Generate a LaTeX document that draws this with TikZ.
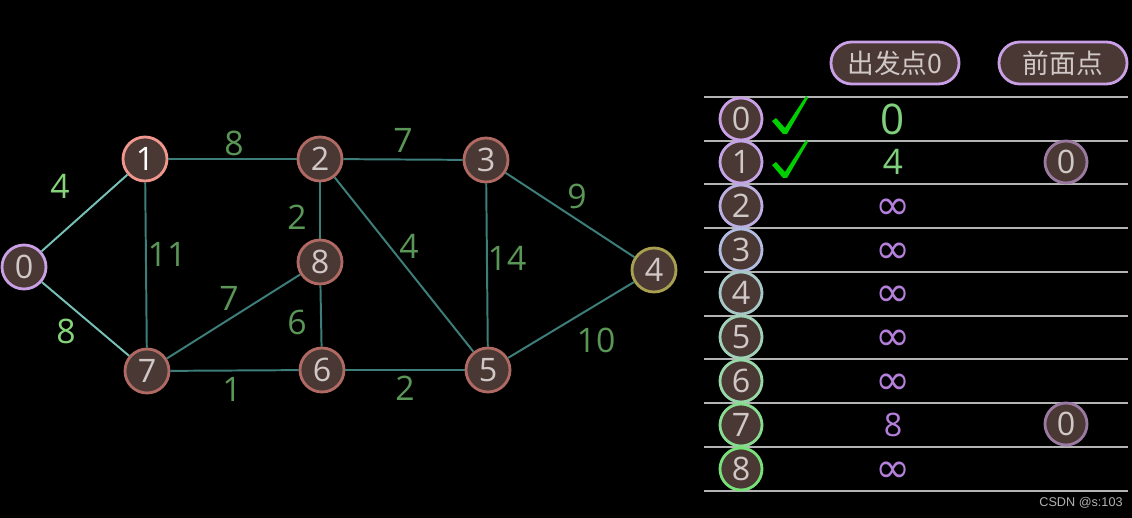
\documentclass[tikz,border=0pt]{standalone}
\usepackage{fontspec}
\setmainfont{Open Sans}
\newfontfamily\cjkfont{Noto Sans CJK SC}
\newfontfamily\symfont{DejaVu Sans}
\newfontfamily\markfont{Liberation Sans}

\definecolor{vfill}{HTML}{4A3834}
\definecolor{vline}{HTML}{B06A63}
\definecolor{vtext}{HTML}{D0C8C6}
\definecolor{startline}{HTML}{C9A0E6}
\definecolor{firstline}{HTML}{F0968C}
\definecolor{farline}{HTML}{A8A050}
\definecolor{linkdark}{HTML}{3E7E7A}
\definecolor{linklight}{HTML}{76C0B8}
\definecolor{wtdark}{HTML}{5A9656}
\definecolor{wtlight}{HTML}{86D47A}
\definecolor{rulecol}{HTML}{B4B4B4}
\definecolor{infcol}{HTML}{B57FDC}
\definecolor{distcol}{HTML}{80CF7C}
\definecolor{checkcol}{HTML}{00D000}
\definecolor{predline}{HTML}{9A7AA0}

% tick mark drawn at a given centre
\newcommand{\tickat}[2]{\fill[checkcol, shift={(#1,#2)}] (-18,4) -- (-14,1) -- (-5,11) -- (16,-21) -- (18,-19) -- (-3,17) -- (-7,17) -- cycle;}

\begin{document}
\begin{tikzpicture}[x=0.025cm, y=-0.025cm,
    vtx/.style={circle, draw=vline, line width=2pt, fill=vfill, minimum size=1.1cm, inner sep=0pt, text=vtext, font=\fontsize{23}{23}\selectfont},
    link/.style={draw=linkdark, line width=1.4pt},
    wt/.style={text=wtdark, font=\fontsize{24}{24}\selectfont},
    rowv/.style={vtx, minimum size=1.05cm},
    pill/.style={draw=startline, line width=2pt, fill=vfill, rounded corners=0.52cm, minimum width=3.2cm, minimum height=1.05cm, text=vtext, font=\cjkfont\fontsize{19}{19}\selectfont},
    tline/.style={draw=rulecol, line width=2pt},
    inf/.style={text=infcol, font=\symfont\fontsize{30}{30}\selectfont}
]
    % Background
    \fill[black] (0,0) rectangle (1132,518);
    \useasboundingbox (0,0) rectangle (1132,518);

    % Graph vertices
    \node[vtx, draw=startline] (v0) at (24,267) {0};
    \node[vtx, draw=firstline, text=white] (v1) at (145,159) {1};
    \node[vtx] (v2) at (320,159) {2};
    \node[vtx] (v3) at (486,160) {3};
    \node[vtx, draw=farline] (v4) at (654,270) {4};
    \node[vtx] (v5) at (488,370) {5};
    \node[vtx] (v6) at (322,370) {6};
    \node[vtx] (v7) at (147,371) {7};
    \node[vtx] (v8) at (320,262) {8};

    % Graph edges
    \draw[link, draw=linklight] (v0) -- (v1);
    \draw[link, draw=linklight] (v0) -- (v7);
    \draw[link] (v1) -- (v2);
    \draw[link] (v1) -- (v7);
    \draw[link] (v2) -- (v3);
    \draw[link] (v2) -- (v8);
    \draw[link] (v2) -- (v5);
    \draw[link] (v7) -- (v8);
    \draw[link] (v8) -- (v6);
    \draw[link] (v7) -- (v6);
    \draw[link] (v6) -- (v5);
    \draw[link] (v3) -- (v5);
    \draw[link] (v3) -- (v4);
    \draw[link] (v5) -- (v4);

    % Edge weights
    \node[wt, text=wtlight] (w01) at (60,186) {4};
    \node[wt, text=wtlight] (w07) at (66,331) {8};
    \node[wt] (w12) at (234,143) {8};
    \node[wt] (w17) at (167,254) {11};
    \node[wt] (w23) at (403,140) {7};
    \node[wt] (w28) at (297,217) {2};
    \node[wt] (w78) at (229,298) {7};
    \node[wt] (w86) at (297,322) {6};
    \node[wt] (w25) at (409,246) {4};
    \node[wt] (w35) at (507,258) {14};
    \node[wt] (w34) at (577,196) {9};
    \node[wt] (w54) at (596,340) {10};
    \node[wt] (w76) at (232,389) {1};
    \node[wt] (w65) at (405,388) {2};

    % Table header
    \node[pill] (hdist) at (895,63) {出发点0};
    \node[pill] (hprev) at (1063,63) {前面点};

    % Table rules
    \draw[tline] (704,97) -- (1128,97);
    \draw[tline] (704,141) -- (1128,141);
    \draw[tline] (704,184) -- (1128,184);
    \draw[tline] (704,228) -- (1128,228);
    \draw[tline] (704,272) -- (1128,272);
    \draw[tline] (704,316) -- (1128,316);
    \draw[tline] (704,359) -- (1128,359);
    \draw[tline] (704,403) -- (1128,403);
    \draw[tline] (704,447) -- (1128,447);
    \draw[tline] (704,491) -- (1128,491);

    % Table rows: vertex
    \node[rowv, draw={rgb,255:red,201;green,160;blue,230}] (r0) at (741,119) {0};
    \node[rowv, draw={rgb,255:red,196;green,164;blue,228}] (r1) at (741,162) {1};
    \node[rowv, draw={rgb,255:red,187;green,174;blue,224}] (r2) at (741,206) {2};
    \node[rowv, draw={rgb,255:red,176;green,188;blue,224}] (r3) at (741,250) {3};
    \node[rowv, draw={rgb,255:red,168;green,200;blue,200}] (r4) at (741,293) {4};
    \node[rowv, draw={rgb,255:red,160;green,208;blue,184}] (r5) at (741,337) {5};
    \node[rowv, draw={rgb,255:red,152;green,216;blue,168}] (r6) at (741,381) {6};
    \node[rowv, draw={rgb,255:red,136;green,220;blue,144}] (r7) at (741,425) {7};
    \node[rowv, draw={rgb,255:red,120;green,224;blue,120}] (r8) at (741,469) {8};

    % Done marks
    \tickat{790}{117}
    \tickat{790}{161}

    % Distances
    \node[text=distcol, font=\fontsize{30}{30}\selectfont] (d0) at (893,119) {0};
    \node[text=distcol, font=\fontsize{25}{25}\selectfont] (d1) at (893,162) {4};
    \node[inf] (d2) at (893,209) {∞};
    \node[inf] (d3) at (893,253) {∞};
    \node[inf] (d4) at (893,296) {∞};
    \node[inf] (d5) at (893,340) {∞};
    \node[inf] (d6) at (893,384) {∞};
    \node[text=infcol, font=\fontsize{23}{23}\selectfont] (d7) at (893,425) {8};
    \node[inf] (d8) at (893,472) {∞};

    % Predecessors
    \node[rowv, draw=predline] (p1) at (1066,162) {0};
    \node[rowv, draw=predline] (p7) at (1066,424) {0};

    % Watermark
    \node[text=gray!60, font=\markfont\fontsize{9}{9}\selectfont] (mark) at (1081,503) {CSDN @s:103};
\end{tikzpicture}
\end{document}
